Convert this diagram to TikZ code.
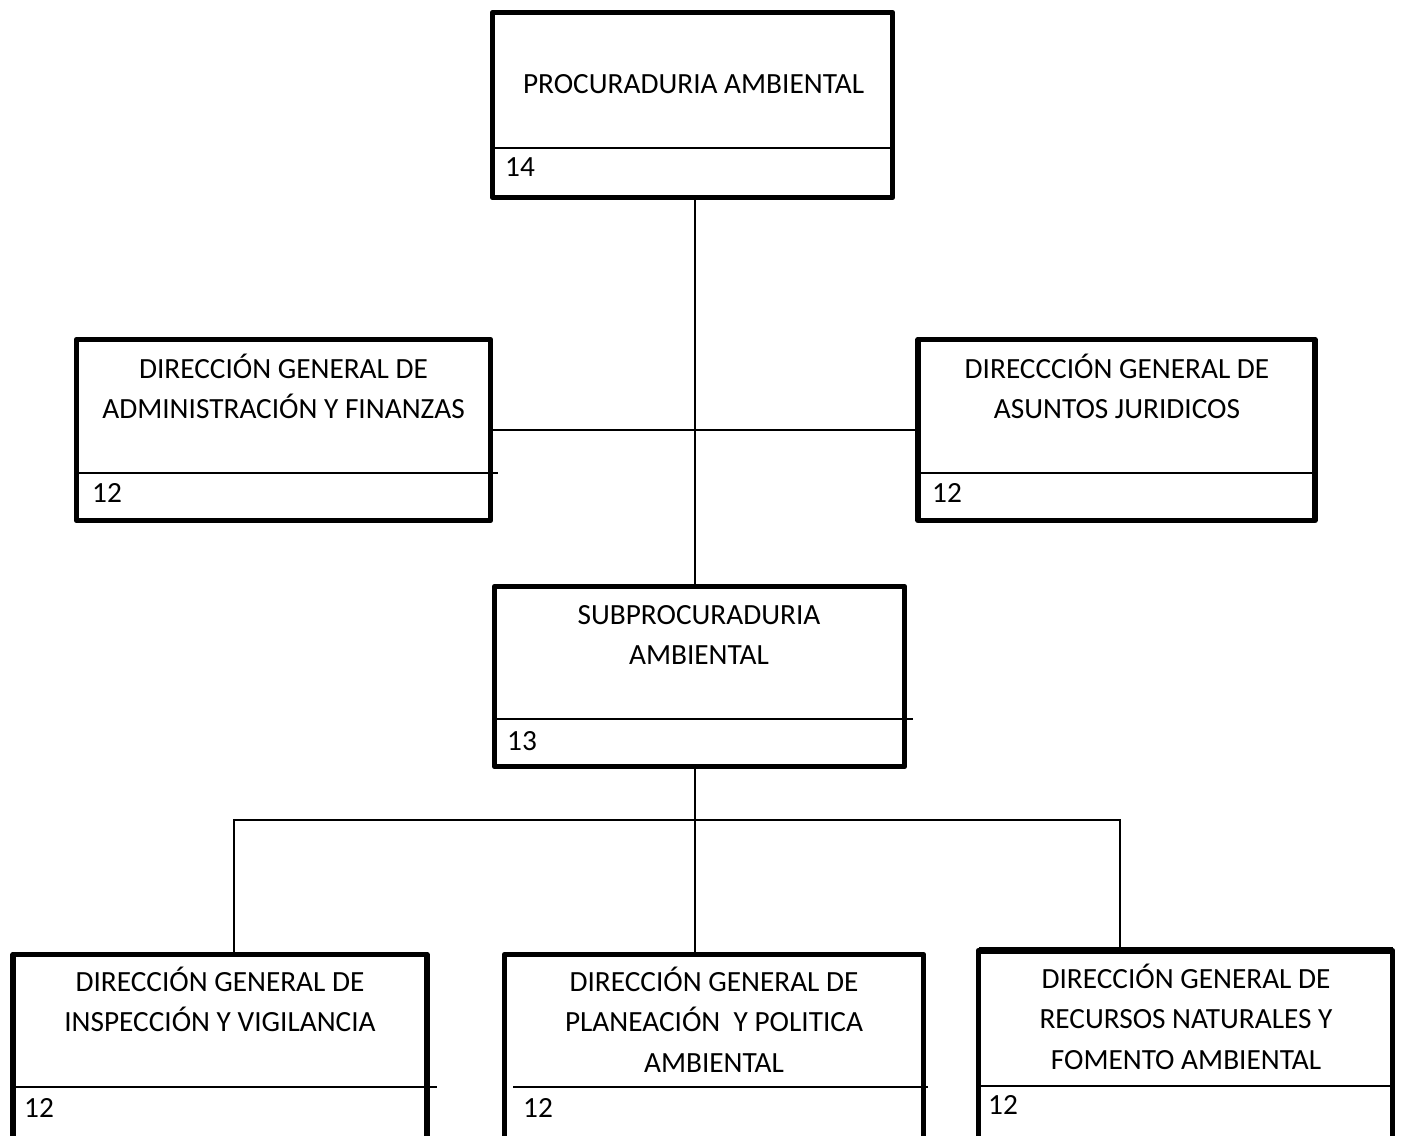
\documentclass[tikz,border=0pt]{standalone}
\usepackage{fontspec}
\setmainfont{Carlito}
\begin{document}
\begin{tikzpicture}[x=1pt,y=-1pt,
  box/.style={draw, line width=5.5pt, line join=round, rectangle, inner sep=0pt, outer sep=0pt},
  divline/.style={line width=2.4pt},
  conn/.style={line width=2.4pt},
  lbl/.style={inner sep=0pt, anchor=base, font=\fontsize{29.3}{40.7}\selectfont},
  num/.style={inner sep=0pt, anchor=base west, font=\fontsize{29.3}{40.7}\selectfont}]
\useasboundingbox (0,0) rectangle (1405,1135);
\clip (0,0) rectangle (1405,1135);

% boxes
\node[box, minimum width=400pt, minimum height=185pt] (procu) at (692.5,105) {};
\node[box, minimum width=414pt, minimum height=181pt] (admin) at (283.5,430) {};
\node[box, minimum width=397pt, minimum height=181pt] (jur) at (1116.5,430) {};
\node[box, minimum width=410pt, minimum height=180pt] (sub) at (699.5,676.5) {};
\node[box, minimum width=414pt, minimum height=190pt] (insp) at (220,1049.5) {};
\node[box, minimum width=419pt, minimum height=190pt] (plan) at (714,1049.5) {};
\node[box, minimum width=414pt, minimum height=190pt] (recu) at (1185.5,1045.5) {};
\draw[line width=7pt] (recu.north west) -- (recu.north east);

% dividers
\draw[divline] (procu.west |- 0,148) -- (procu.east |- 0,148);
\draw[divline] (admin.west |- 0,473) -- (498,473);
\draw[divline] (jur.west |- 0,473) -- (jur.east |- 0,473);
\draw[divline] (sub.west |- 0,719) -- (913,719);
\draw[divline] (insp.west |- 0,1087) -- (437,1087);
\draw[divline] (513,1087) -- (928,1087);
\draw[divline] (recu.west |- 0,1086) -- (recu.east |- 0,1086);

% connectors
\coordinate (spine) at (695,0);
\coordinate (busL) at (234,820);
\coordinate (busM) at (695,820);
\coordinate (busR) at (1120,820);
\draw[conn] (procu.south -| spine) -- (sub.north -| spine);
\draw[conn] (admin.east) -- (jur.west);
\draw[conn] (sub.south -| busM) -- (plan.north -| busM);
\draw[conn] (insp.north -| busL) -- (busL) -- (busR) -- (recu.north -| busR);

% texts
\node[lbl] (tProcu) at (693.5,93) {PROCURADURIA AMBIENTAL};
\node[num] (nProcu) at (505,176) {14};

\node[lbl] (tAdmin) at (283.5,378) {\parbox[t]{420pt}{\centering DIRECCIÓN GENERAL DE\\ADMINISTRACIÓN Y FINANZAS}};
\node[num] (nAdmin) at (92,502) {12};

\node[lbl] (tJur) at (1117,378) {\parbox[t]{420pt}{\centering DIRECCCIÓN GENERAL DE\\ASUNTOS JURIDICOS}};
\node[num] (nJur) at (932,502) {12};

\node[lbl] (tSub) at (699,624) {\parbox[t]{420pt}{\centering SUBPROCURADURIA\\AMBIENTAL}};
\node[num] (nSub) at (507,750) {13};

\node[lbl] (tInsp) at (220,991) {\parbox[t]{420pt}{\centering DIRECCIÓN GENERAL DE\\INSPECCIÓN Y VIGILANCIA}};
\node[num] (nInsp) at (24,1117) {12};

\node[lbl] (tPlan) at (714,991) {\parbox[t]{420pt}{\centering DIRECCIÓN GENERAL DE\\PLANEACIÓN\ \ Y POLITICA\\AMBIENTAL}};
\node[num] (nPlan) at (523,1117) {12};

\node[lbl] (tRecu) at (1186,988) {\parbox[t]{420pt}{\centering DIRECCIÓN GENERAL DE\\RECURSOS NATURALES Y\\FOMENTO AMBIENTAL}};
\node[num] (nRecu) at (988,1114) {12};
\end{tikzpicture}
\end{document}
